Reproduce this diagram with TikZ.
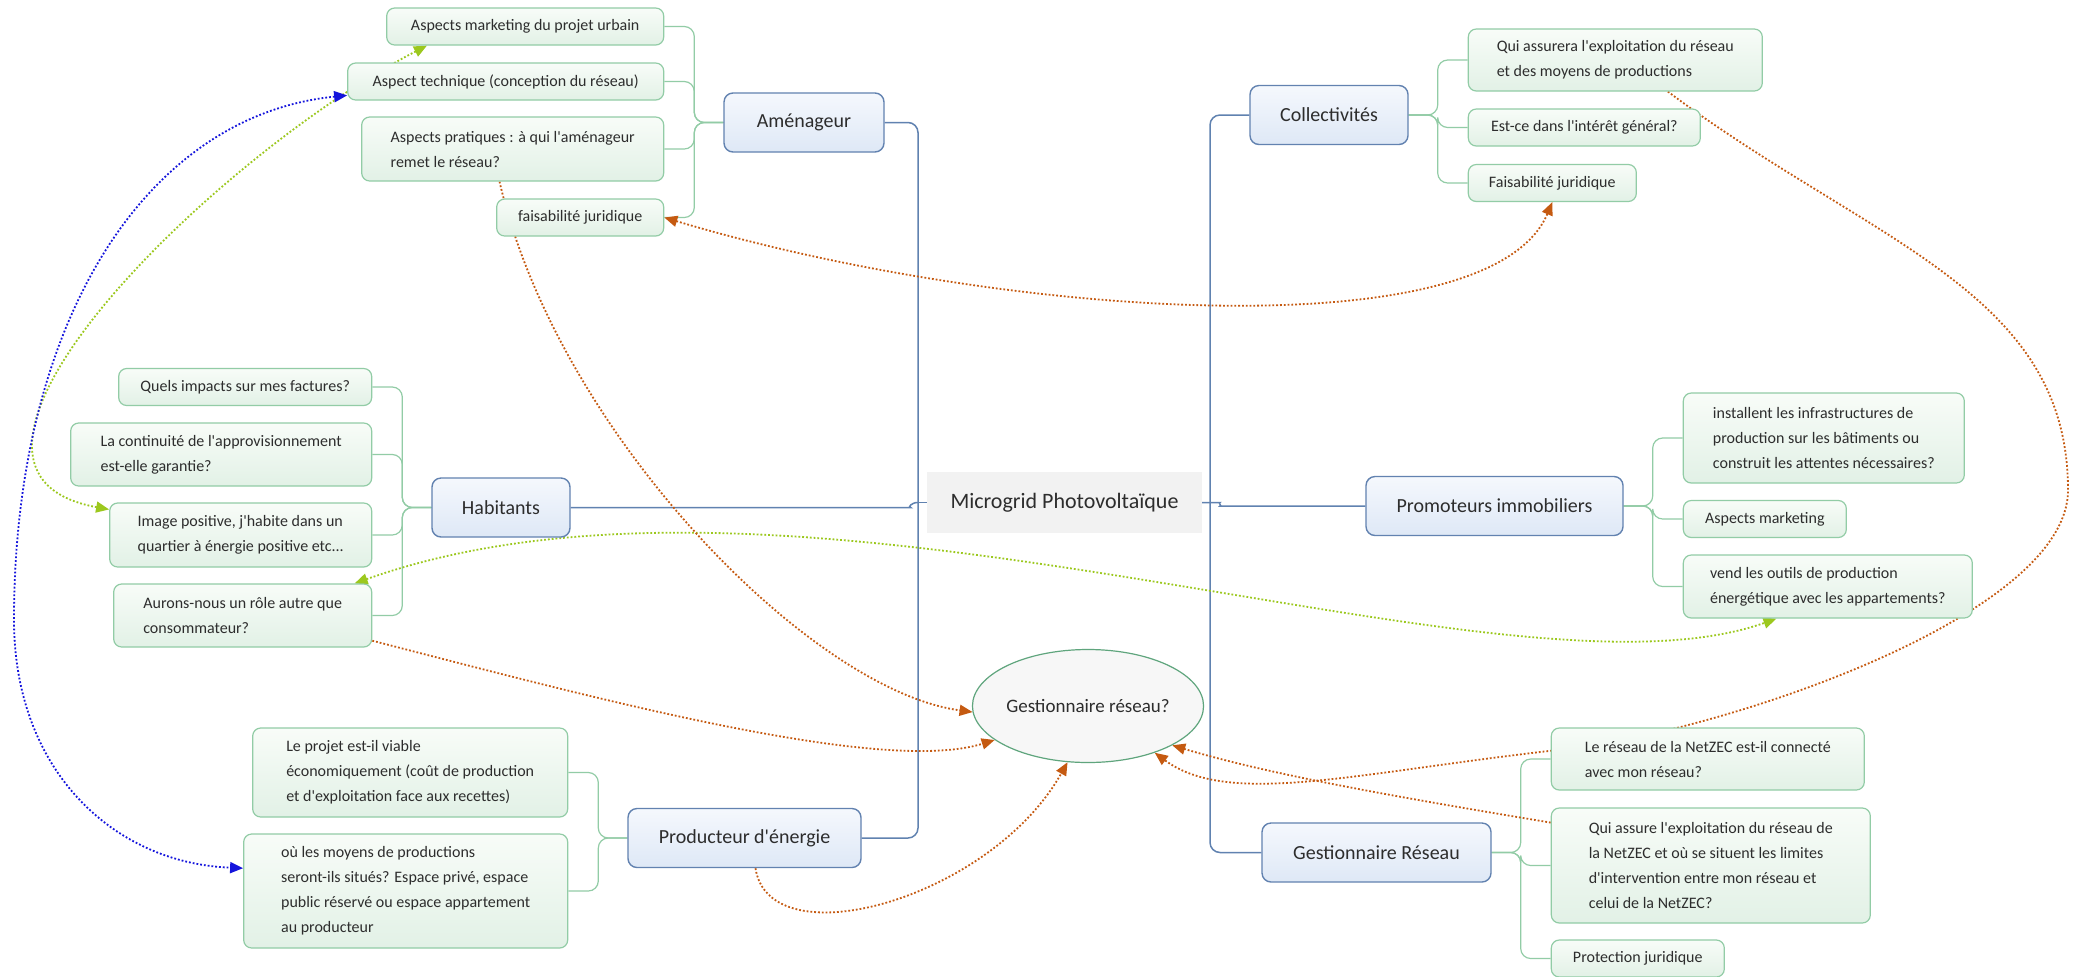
\documentclass[tikz,border=0pt]{standalone}
\usepackage{fontspec}
\newfontfamily\topicfont{Carlito}
\usetikzlibrary{arrows.meta, positioning, shapes.geometric, backgrounds}

\definecolor{trunkblue}{RGB}{96,130,176}
\definecolor{topicedge}{RGB}{98,130,176}
\definecolor{topictop}{RGB}{245,248,253}
\definecolor{topicbot}{RGB}{222,232,246}
\definecolor{subedge}{RGB}{146,204,166}
\definecolor{subtop}{RGB}{248,252,248}
\definecolor{subbot}{RGB}{226,241,230}
\definecolor{ovaledge}{RGB}{95,165,125}
\definecolor{relorange}{RGB}{197,90,17}
\definecolor{relgreen}{RGB}{156,200,30}
\definecolor{relblue}{RGB}{20,20,220}
\definecolor{inktext}{RGB}{45,45,45}

\begin{document}
\begin{tikzpicture}[
        x=0.5pt, y=-0.5pt,
        >={Triangle[length=6.5pt,width=5.5pt]},
        node distance=29.5pt,
        every node/.style={text=inktext},
        topic/.style={draw=topicedge, line width=0.7pt, rounded corners=4.5pt,
            top color=topictop, bottom color=topicbot, minimum height=29.5pt,
            inner sep=0pt, font=\topicfont\fontsize{10pt}{12pt}\selectfont},
        subtopic/.style={draw=subedge, line width=0.6pt, rounded corners=4pt,
            top color=subtop, bottom color=subbot, minimum height=18.5pt,
            align=left, inner sep=0pt, font=\topicfont\fontsize{8pt}{12.5pt}\selectfont},
        central/.style={fill=black!5, minimum width=137.5pt, minimum height=30.5pt,
            inner sep=0pt, font=\topicfont\fontsize{11pt}{13pt}\selectfont},
        floating/.style={ellipse, draw=ovaledge, line width=0.6pt, fill=black!3,
            minimum width=105pt, minimum height=56.5pt, inner sep=0pt,
            font=\topicfont\fontsize{9.5pt}{11pt}\selectfont},
        trunk/.style={draw=trunkblue, line width=0.75pt, rounded corners=5pt},
        twig/.style={draw=subedge, line width=0.6pt, rounded corners=5pt},
        linkorange/.style={draw=relorange, line width=0.9pt, densely dotted},
        linkgreen/.style={draw=relgreen, line width=0.9pt, densely dotted},
        linkblue/.style={draw=relblue, line width=0.9pt, densely dotted}
    ]
        \useasboundingbox (0,0) rectangle (2076,976);

        % central topic and main branches
        \node[central] (ctr) at (1064.5,502.5) {Microgrid Photovoltaïque};
        \node[topic, minimum width=80pt] (amen) at (804,122.5) {Aménageur};
        \node[topic, minimum width=79pt] (coll) at (1329,115) {Collectivités};
        \node[topic, minimum width=69pt] (hab) at (501,507.5) {Habitants};
        \node[topic, minimum width=128.5pt] (prom) at (1494.5,506) {Promoteurs immobiliers};
        \node[topic, minimum width=116.5pt] (prod) at (744.5,838) {Producteur d'énergie};
        \node[topic, minimum width=114.5pt] (gestR) at (1376.5,852.5) {Gestionnaire Réseau};
        \node[floating] (gest) at (1088,706) {Gestionnaire réseau?};

        % Aménageur
        \node[subtopic, left=of amen, yshift=48pt, minimum width=138.5pt] (mkt) {Aspects marketing du projet urbain};
        \node[subtopic, left=of amen, yshift=20.5pt, minimum width=158pt] (tech) {Aspect technique (conception du réseau)};
        \node[subtopic, left=of amen, yshift=-13.25pt, minimum width=151pt, minimum height=32pt] (prat) {Aspects pratiques : à qui l'aménageur\\remet le réseau?};
        \node[subtopic, left=of amen, yshift=-47.5pt, minimum width=83.5pt] (faisA) {faisabilité juridique};

        % Collectivités
        \node[subtopic, right=of coll, yshift=27.5pt, minimum width=147pt, minimum height=31pt] (quiA) {Qui assurera l'exploitation du réseau\\et des moyens de productions};
        \node[subtopic, right=of coll, yshift=-6.25pt, minimum width=116pt] (interet) {Est-ce dans l'intérêt général?};
        \node[subtopic, right=of coll, yshift=-34pt, minimum width=84pt] (faisC) {Faisabilité juridique};

        % Habitants
        \node[subtopic, left=of hab, yshift=60.25pt, minimum width=126.5pt] (quels) {Quels impacts sur mes factures?};
        \node[subtopic, left=of hab, yshift=26.5pt, minimum width=150.5pt, minimum height=31.5pt] (cont) {La continuité de l'approvisionnement\\est-elle garantie?};
        \node[subtopic, left=of hab, yshift=-13.75pt, minimum width=131pt, minimum height=32pt] (img) {Image positive, j'habite dans un\\quartier à énergie positive etc...};
        \node[subtopic, left=of hab, yshift=-54pt, minimum width=129pt, minimum height=31.5pt] (aur) {Aurons-nous un rôle autre que\\consommateur?};

        % Promoteurs immobiliers
        \node[subtopic, right=of prom, yshift=34pt, minimum width=140.5pt, minimum height=45pt] (inst) {installent les infrastructures de\\production sur les bâtiments ou\\construit les attentes nécessaires?};
        \node[subtopic, right=of prom, yshift=-6.5pt, minimum width=81.5pt] (aspM) {Aspects marketing};
        \node[subtopic, right=of prom, yshift=-40.25pt, minimum width=144.5pt, minimum height=31.5pt] (vend) {vend les outils de production\\énergétique avec les appartements?};

        % Producteur d'énergie
        \node[subtopic, left=of prod, yshift=32.75pt, minimum width=157.5pt, minimum height=44.5pt] (viab) {Le projet est-il viable\\économiquement (coût de production\\et d'exploitation face aux recettes)};
        \node[subtopic, left=of prod, yshift=-26.5pt, minimum width=162pt, minimum height=57pt] (ou) {où les moyens de productions\\seront-ils situés? Espace privé, espace\\public réservé ou espace appartement\\au producteur};

        % Gestionnaire Réseau
        \node[subtopic, right=of gestR, yshift=46.75pt, minimum width=156.5pt, minimum height=31pt] (netz) {Le réseau de la NetZEC est-il connecté\\avec mon réseau?};
        \node[subtopic, right=of gestR, yshift=-6.5pt, minimum width=159.5pt, minimum height=57.5pt] (quiS) {Qui assure l'exploitation du réseau de\\la NetZEC et où se situent les limites\\d'intervention entre mon réseau et\\celui de la NetZEC?};
        \node[subtopic, right=of gestR, yshift=-53pt, minimum width=86.5pt] (prot) {Protection juridique};

        \coordinate (trunkL) at (918,502.5);
        \coordinate (trunkR) at (1210,502.5);
        \coordinate (loopR) at (2068,490);
        \coordinate (arcL) at (14,620);

        \begin{pgfonlayer}{background}
            \fill[white] (0,0) rectangle (2076,976);

            % trunk lines
            \draw[trunk] (amen.east) -| (trunkL) |- (prod.east);
            \draw[trunk] (trunkL) -- (ctr.west);
            \draw[trunk] (hab.east) -- ++(330,0) to[out=0,in=180] (trunkL);
            \draw[trunk] (coll.west) -| (trunkR) |- (gestR.west);
            \draw[trunk] (ctr.east) -- (trunkR) to[out=0,in=180] ++(20,3.5) -- (prom.west);

            % sub branches
            \foreach \kid in {mkt,tech,prat,faisA}
                \draw[twig] (amen.west) -- ++(-29,0) |- (\kid.east);
            \foreach \kid in {quels,cont,img,aur}
                \draw[twig] (hab.west) -- ++(-29,0) |- (\kid.east);
            \foreach \kid in {viab,ou}
                \draw[twig] (prod.west) -- ++(-29,0) |- (\kid.east);
            \foreach \kid in {quiA,interet,faisC}
                \draw[twig] (coll.east) -- ++(29,0) |- (\kid.west);
            \foreach \kid in {inst,aspM,vend}
                \draw[twig] (prom.east) -- ++(29,0) |- (\kid.west);
            \foreach \kid in {netz,quiS,prot}
                \draw[twig] (gestR.east) -- ++(29,0) |- (\kid.west);

            % relationships
            \draw[linkgreen, <->] (mkt.191) .. controls +(-213,110) and +(-215,-39) .. (img.169);
            \draw[linkblue, <->] (tech.185) .. controls +(-200,20) and +(0,-300) .. (arcL)
                .. controls +(0,150) and +(-130,-5) .. (ou.172);
            \draw[linkgreen, <->] (aur.16) .. controls +(449,-160) and +(-276,98) .. (vend.212);
            \draw[linkorange, <->] (faisA.east) .. controls +(333,100) and +(-63,150) .. (faisC.south);
            \draw[linkorange, ->] (prat.248) .. controls +(57,249) and +(-163,-22) .. (gest.183);
            \draw[linkorange, ->] (aur.349) .. controls +(228,59) and +(-113,35) .. (gest.200);
            \draw[linkorange, ->] (prod.290) .. controls +(14,92) and +(-77,137) .. (gest.250);
            \draw[linkorange, ->] (quiA.329) .. controls +(200,150) and +(0,-200) .. (loopR)
                .. controls +(0,130) and +(150,-12) .. (netz.177)
                .. controls +(-200,23) and +(73,54) .. (gest.325);
            \draw[linkorange, ->] (quiS.165) .. controls +(-150,-25) and +(100,30) .. (gest.335);
        \end{pgfonlayer}
    \end{tikzpicture}
\end{document}
